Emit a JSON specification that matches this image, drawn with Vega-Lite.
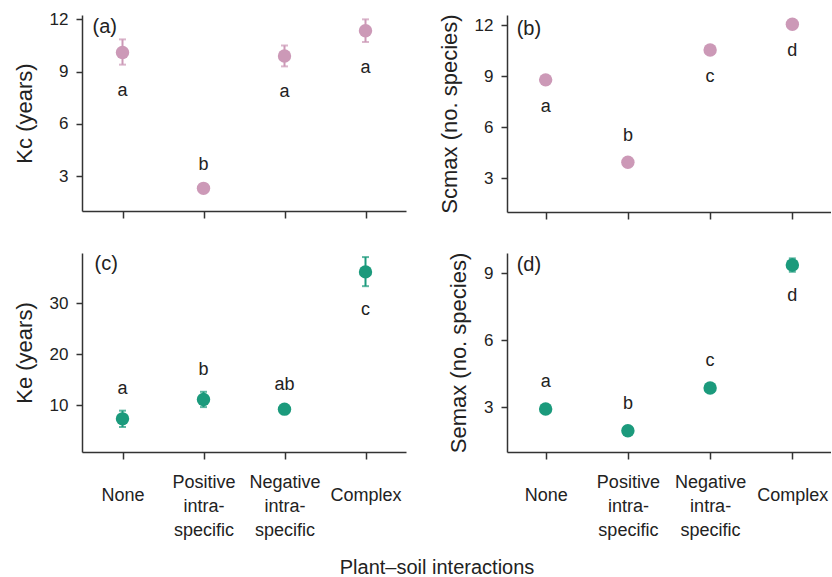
{
  "$schema": "https://vega.github.io/schema/vega-lite/v6.json",
  "background": "white",
  "padding": {"left": 13, "top": 10, "right": 0, "bottom": 0},
  "datasets": {
    "pts": [
      {"panel": "a", "cat": "None", "mean": 10.1, "lo": 9.4, "hi": 10.85, "letter": "a", "side": "below"},
      {"panel": "a", "cat": "Positive intra-specific", "mean": 2.3, "lo": 2.25, "hi": 2.35, "letter": "b", "side": "above"},
      {"panel": "a", "cat": "Negative intra-specific", "mean": 9.9, "lo": 9.3, "hi": 10.5, "letter": "a", "side": "below"},
      {"panel": "a", "cat": "Complex", "mean": 11.35, "lo": 10.7, "hi": 12.0, "letter": "a", "side": "below"},
      {"panel": "b", "cat": "None", "mean": 8.78, "lo": 8.73, "hi": 8.83, "letter": "a", "side": "below"},
      {"panel": "b", "cat": "Positive intra-specific", "mean": 3.93, "lo": 3.88, "hi": 3.98, "letter": "b", "side": "above"},
      {"panel": "b", "cat": "Negative intra-specific", "mean": 10.54, "lo": 10.49, "hi": 10.59, "letter": "c", "side": "below"},
      {"panel": "b", "cat": "Complex", "mean": 12.06, "lo": 12.01, "hi": 12.11, "letter": "d", "side": "below"},
      {"panel": "c", "cat": "None", "mean": 7.3, "lo": 5.7, "hi": 8.9, "letter": "a", "side": "above"},
      {"panel": "c", "cat": "Positive intra-specific", "mean": 11.1, "lo": 9.6, "hi": 12.6, "letter": "b", "side": "above"},
      {"panel": "c", "cat": "Negative intra-specific", "mean": 9.2, "lo": 8.8, "hi": 9.6, "letter": "ab", "side": "above"},
      {"panel": "c", "cat": "Complex", "mean": 36.1, "lo": 33.3, "hi": 39.0, "letter": "c", "side": "below"},
      {"panel": "d", "cat": "None", "mean": 2.92, "lo": 2.88, "hi": 2.96, "letter": "a", "side": "above"},
      {"panel": "d", "cat": "Positive intra-specific", "mean": 1.95, "lo": 1.91, "hi": 1.99, "letter": "b", "side": "above"},
      {"panel": "d", "cat": "Negative intra-specific", "mean": 3.86, "lo": 3.82, "hi": 3.9, "letter": "c", "side": "above"},
      {"panel": "d", "cat": "Complex", "mean": 9.36, "lo": 9.06, "hi": 9.66, "letter": "d", "side": "below"}
    ]
  },
  "title": {"text": "Plant–soil interactions", "orient": "bottom", "anchor": "middle", "fontSize": 20, "fontWeight": "normal", "font": "Liberation Sans", "color": "#222", "offset": 19, "dx": 15},
  "columns": 2,
  "spacing": {"column": 32, "row": 32},
  "concat": [
    {
      "width": 324, "height": 196,
      "data": {"name": "pts"},
      "transform": [{"filter": "datum.panel == 'a'"}],
      "encoding": {
        "x": {"field": "cat", "type": "nominal", "scale": {"type": "point", "padding": 0.5, "domain": ["None", "Positive intra-specific", "Negative intra-specific", "Complex"]}, "axis": {"labels": false, "title": null, "tickSize": 7}}
      },
      "layer": [
        {"mark": {"type": "errorbar", "color": "#CC99B7", "rule": {"strokeWidth": 2}, "ticks": {"size": 7, "thickness": 2}},
         "encoding": {"y": {"field": "lo", "type": "quantitative", "title": "Kc (years)", "scale": {"domain": [1, 12.25], "nice": false, "zero": false}, "axis": {"values": [3, 6, 9, 12], "title": "Kc (years)"}}, "y2": {"field": "hi"}}},
        {"mark": {"type": "circle", "size": 180, "opacity": 1, "color": "#CC99B7"},
         "encoding": {"y": {"field": "mean", "type": "quantitative", "title": "Kc (years)"}}},
        {"transform": [{"filter": "datum.side == 'below'"}],
         "mark": {"type": "text", "dy": 26, "fontSize": 18, "font": "Liberation Sans", "color": "#222", "baseline": "middle"},
         "encoding": {"y": {"field": "lo", "type": "quantitative", "title": "Kc (years)"}, "text": {"field": "letter"}}},
        {"transform": [{"filter": "datum.side == 'above'"}],
         "mark": {"type": "text", "dy": -22, "fontSize": 18, "font": "Liberation Sans", "color": "#222", "baseline": "middle"},
         "encoding": {"y": {"field": "hi", "type": "quantitative", "title": "Kc (years)"}, "text": {"field": "letter"}}},
        {"data": {"values": [{"panel_label": "(a)"}]},
         "mark": {"type": "text", "align": "left", "baseline": "middle", "dx": -30, "dy": 12, "fontSize": 20, "font": "Liberation Sans", "color": "#222"},
         "encoding": {"x": {"datum": "None"}, "y": {"datum": 12.25, "title": "Kc (years)"}, "text": {"field": "panel_label"}}}
      ]
    },
    {
      "width": 324, "height": 197,
      "data": {"name": "pts"},
      "transform": [{"filter": "datum.panel == 'b'"}],
      "encoding": {
        "x": {"field": "cat", "type": "nominal", "scale": {"type": "point", "padding": 0.47, "domain": ["None", "Positive intra-specific", "Negative intra-specific", "Complex"]}, "axis": {"labels": false, "title": null, "tickSize": 7}}
      },
      "layer": [
        {"mark": {"type": "errorbar", "color": "#CC99B7", "rule": {"strokeWidth": 2}, "ticks": {"size": 7, "thickness": 2}},
         "encoding": {"y": {"field": "lo", "type": "quantitative", "title": "Scmax (no. species)", "scale": {"domain": [1, 12.6], "nice": false, "zero": false}, "axis": {"values": [3, 6, 9, 12], "title": "Scmax (no. species)"}}, "y2": {"field": "hi"}}},
        {"mark": {"type": "circle", "size": 180, "opacity": 1, "color": "#CC99B7"},
         "encoding": {"y": {"field": "mean", "type": "quantitative", "title": "Scmax (no. species)"}}},
        {"transform": [{"filter": "datum.side == 'below'"}],
         "mark": {"type": "text", "dy": 26, "fontSize": 18, "font": "Liberation Sans", "color": "#222", "baseline": "middle"},
         "encoding": {"y": {"field": "lo", "type": "quantitative", "title": "Scmax (no. species)"}, "text": {"field": "letter"}}},
        {"transform": [{"filter": "datum.side == 'above'"}],
         "mark": {"type": "text", "dy": -25, "fontSize": 18, "font": "Liberation Sans", "color": "#222", "baseline": "middle"},
         "encoding": {"y": {"field": "hi", "type": "quantitative", "title": "Scmax (no. species)"}, "text": {"field": "letter"}}},
        {"data": {"values": [{"panel_label": "(b)"}]},
         "mark": {"type": "text", "align": "left", "baseline": "middle", "dx": -29, "dy": 14, "fontSize": 20, "font": "Liberation Sans", "color": "#222"},
         "encoding": {"x": {"datum": "None"}, "y": {"datum": 12.6, "title": "Scmax (no. species)"}, "text": {"field": "panel_label"}}}
      ]
    },
    {
      "width": 324, "height": 199,
      "data": {"name": "pts"},
      "transform": [{"filter": "datum.panel == 'c'"}],
      "encoding": {
        "x": {"field": "cat", "type": "nominal", "scale": {"type": "point", "padding": 0.5, "domain": ["None", "Positive intra-specific", "Negative intra-specific", "Complex"]},
              "axis": {"title": null, "tickSize": 7, "labelAngle": 0, "labelFontSize": 18, "labelLineHeight": 24, "labelBaseline": "top",
                       "labelPadding": {"condition": {"test": "datum.value == 'None' || datum.value == 'Complex'", "value": 27}, "value": 14},
                       "labelExpr": "datum.value == 'None' || datum.value == 'Complex' ? datum.value : [split(datum.value, ' ')[0], 'intra-', 'specific']"}}
      },
      "layer": [
        {"mark": {"type": "errorbar", "color": "#1B9A7C", "rule": {"strokeWidth": 2}, "ticks": {"size": 7, "thickness": 2}},
         "encoding": {"y": {"field": "lo", "type": "quantitative", "title": "Ke (years)", "scale": {"domain": [0.8, 39.8], "nice": false, "zero": false}, "axis": {"values": [10, 20, 30], "title": "Ke (years)"}}, "y2": {"field": "hi"}}},
        {"mark": {"type": "circle", "size": 180, "opacity": 1, "color": "#1B9A7C"},
         "encoding": {"y": {"field": "mean", "type": "quantitative", "title": "Ke (years)"}}},
        {"transform": [{"filter": "datum.side == 'below'"}],
         "mark": {"type": "text", "dy": 24, "fontSize": 18, "font": "Liberation Sans", "color": "#222", "baseline": "middle"},
         "encoding": {"y": {"field": "lo", "type": "quantitative", "title": "Ke (years)"}, "text": {"field": "letter"}}},
        {"transform": [{"filter": "datum.side == 'above'"}],
         "mark": {"type": "text", "dy": -22, "fontSize": 18, "font": "Liberation Sans", "color": "#222", "baseline": "middle"},
         "encoding": {"y": {"field": "hi", "type": "quantitative", "title": "Ke (years)"}, "text": {"field": "letter"}}},
        {"data": {"values": [{"panel_label": "(c)"}]},
         "mark": {"type": "text", "align": "left", "baseline": "middle", "dx": -28, "dy": 11, "fontSize": 20, "font": "Liberation Sans", "color": "#222"},
         "encoding": {"x": {"datum": "None"}, "y": {"datum": 39.8, "title": "Ke (years)"}, "text": {"field": "panel_label"}}}
      ]
    },
    {
      "width": 324, "height": 199,
      "data": {"name": "pts"},
      "transform": [{"filter": "datum.panel == 'd'"}],
      "encoding": {
        "x": {"field": "cat", "type": "nominal", "scale": {"type": "point", "padding": 0.47, "domain": ["None", "Positive intra-specific", "Negative intra-specific", "Complex"]},
              "axis": {"title": null, "tickSize": 7, "labelAngle": 0, "labelFontSize": 18, "labelLineHeight": 24, "labelBaseline": "top",
                       "labelPadding": {"condition": {"test": "datum.value == 'None' || datum.value == 'Complex'", "value": 27}, "value": 14},
                       "labelExpr": "datum.value == 'None' || datum.value == 'Complex' ? datum.value : [split(datum.value, ' ')[0], 'intra-', 'specific']"}}
      },
      "layer": [
        {"mark": {"type": "errorbar", "color": "#1B9A7C", "rule": {"strokeWidth": 2}, "ticks": {"size": 7, "thickness": 2}},
         "encoding": {"y": {"field": "lo", "type": "quantitative", "title": "Semax (no. species)", "scale": {"domain": [1, 9.9], "nice": false, "zero": false}, "axis": {"values": [3, 6, 9], "title": "Semax (no. species)"}}, "y2": {"field": "hi"}}},
        {"mark": {"type": "circle", "size": 180, "opacity": 1, "color": "#1B9A7C"},
         "encoding": {"y": {"field": "mean", "type": "quantitative", "title": "Semax (no. species)"}}},
        {"transform": [{"filter": "datum.side == 'below'"}],
         "mark": {"type": "text", "dy": 24, "fontSize": 18, "font": "Liberation Sans", "color": "#222", "baseline": "middle"},
         "encoding": {"y": {"field": "lo", "type": "quantitative", "title": "Semax (no. species)"}, "text": {"field": "letter"}}},
        {"transform": [{"filter": "datum.side == 'above'"}],
         "mark": {"type": "text", "dy": -26, "fontSize": 18, "font": "Liberation Sans", "color": "#222", "baseline": "middle"},
         "encoding": {"y": {"field": "hi", "type": "quantitative", "title": "Semax (no. species)"}, "text": {"field": "letter"}}},
        {"data": {"values": [{"panel_label": "(d)"}]},
         "mark": {"type": "text", "align": "left", "baseline": "middle", "dx": -29, "dy": 12, "fontSize": 20, "font": "Liberation Sans", "color": "#222"},
         "encoding": {"x": {"datum": "None"}, "y": {"datum": 9.9, "title": "Semax (no. species)"}, "text": {"field": "panel_label"}}}
      ]
    }
  ],
  "config": {
    "view": {"stroke": null},
    "font": "Liberation Sans",
    "axis": {"grid": false, "domainColor": "#333", "domainWidth": 1.5, "tickColor": "#333", "tickWidth": 1.5, "labelColor": "#222", "labelFont": "Liberation Sans", "titleFont": "Liberation Sans", "titleColor": "#222", "titleFontWeight": "normal"},
    "axisY": {"tickSize": 6, "labelPadding": 8, "labelFontSize": 17, "titleFontSize": 22, "titlePadding": 13}
  }
}
